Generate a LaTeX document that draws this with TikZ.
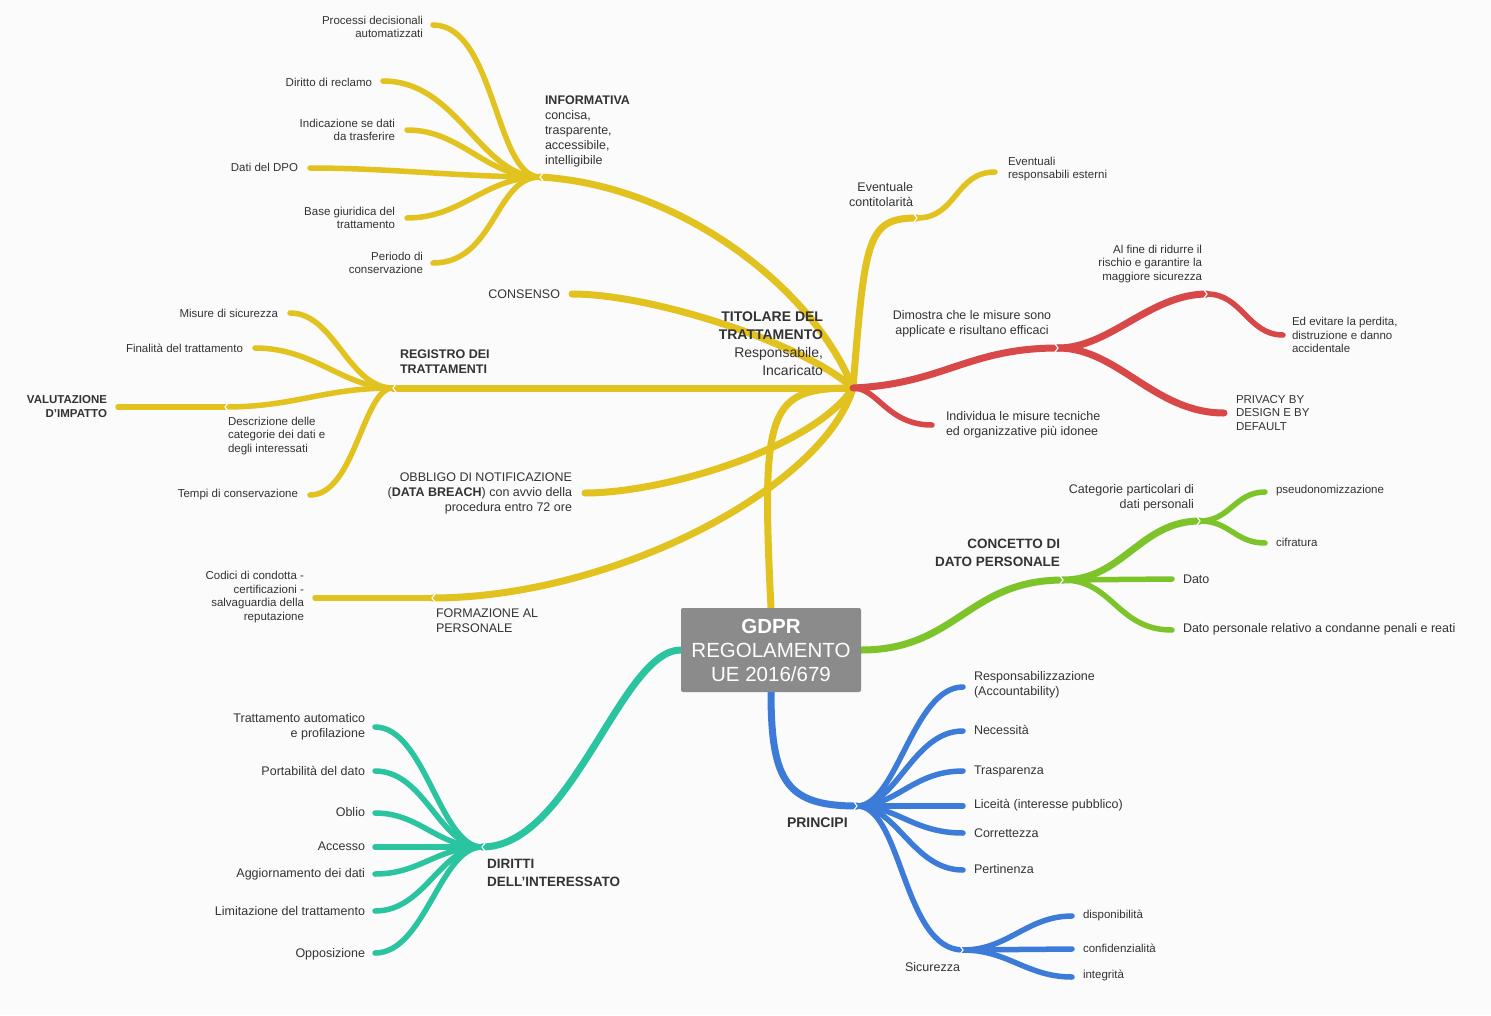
\documentclass[tikz,border=0pt]{standalone}
\usepackage{fontspec}
\setmainfont{Liberation Sans}
\usetikzlibrary{backgrounds}
\definecolor{bgc}{HTML}{FBFBFB}
\definecolor{txt}{HTML}{333333}
\definecolor{cy}{HTML}{E2C21E}
\definecolor{cr}{HTML}{D94848}
\definecolor{cg}{HTML}{7DC42B}
\definecolor{ct}{HTML}{2BC4A0}
\definecolor{cb}{HTML}{3D7BD9}
\definecolor{cgray}{HTML}{8B8B8B}
\newcommand\mmlink[5]{\draw[#1] (#2) .. controls +(#3,0) and +(#4,0) .. (#5);}
\newcommand\chevL[1]{\draw[chev] (#1) ++(3,-4) -- ++(-3,4) -- ++(3,4);}
\newcommand\chevR[1]{\draw[chev] (#1) ++(-3,-4) -- ++(3,4) -- ++(-3,4);}
\begin{document}
\begin{tikzpicture}[x=1pt,y=-1pt,
 tx/.style={text=txt,inner sep=0pt,outer sep=0pt},
 sm/.style={tx,font=\fontsize{11.5}{13.5}\selectfont},
 md/.style={tx,font=\fontsize{12.5}{15}\selectfont},
 bd/.style={tx,font=\bfseries\fontsize{12.5}{15}\selectfont},
 bdl/.style={tx,font=\bfseries\fontsize{13.5}{17.5}\selectfont},
 ra/.style={anchor=east,align=right},
 la/.style={anchor=west,align=left},
 br/.style={line width=7pt,line cap=round},
 lf/.style={line width=5.5pt,line cap=round},
 chev/.style={draw=white,line width=1.1pt},
 rootbox/.style={rectangle,fill=cgray,rounded corners=2pt,minimum width=180pt,minimum height=84pt,inner sep=0pt,text=white,align=center,font=\fontsize{20.5}{24}\selectfont}
]
\useasboundingbox (0,0) rectangle (1491,1015);
\node[rootbox] (root) at (771,650) {\textbf{GDPR}\\REGOLAMENTO\\UE 2016/679};
% coordinates
\coordinate (T) at (853,388);
\coordinate (I) at (540,177);
\coordinate (p1) at (433,25);
\coordinate (p2) at (383,81);
\coordinate (p3) at (407,130);
\coordinate (p4) at (310,168);
\coordinate (p5) at (407,218);
\coordinate (p6) at (433,263);
\coordinate (C) at (572,294);
\coordinate (R) at (393,388);
\coordinate (r1) at (290,313);
\coordinate (r2) at (255,348);
\coordinate (D) at (225,407);
\coordinate (r4) at (310,495);
\coordinate (V) at (118,407);
\coordinate (O) at (585,493);
\coordinate (Fo) at (432,598);
\coordinate (K) at (315,598);
\coordinate (E) at (917,218);
\coordinate (E2) at (995,172);
\coordinate (Dm) at (1058,348);
\coordinate (A) at (1207,294);
\coordinate (Ev) at (1283,335);
\coordinate (Pv) at (1224,413);
\coordinate (In) at (932,425);
\coordinate (Co) at (1063,580);
\coordinate (Ca) at (1200,521);
\coordinate (Ps) at (1265,492);
\coordinate (Ci) at (1265,543);
\coordinate (Da) at (1172,579);
\coordinate (Dp) at (1172,630);
\coordinate (Dr) at (482,847);
\coordinate (t1) at (375,727);
\coordinate (t2) at (375,771);
\coordinate (t3) at (375,813);
\coordinate (t4) at (375,847);
\coordinate (t5) at (375,874);
\coordinate (t6) at (375,911);
\coordinate (t7) at (375,953);
\coordinate (Pc) at (857,806);
\coordinate (b1) at (963,687);
\coordinate (b2) at (963,731);
\coordinate (b3) at (963,771);
\coordinate (b4) at (963,806);
\coordinate (b5) at (963,833);
\coordinate (b6) at (963,870);
\coordinate (Si) at (963,950);
\coordinate (s1) at (1072,916);
\coordinate (s2) at (1072,949);
\coordinate (s3) at (1072,977);
\begin{scope}[on background layer]
\fill[bgc] (0,0) rectangle (1491,1015);
% yellow
\draw[br,cy] (root.north) .. controls +(-10,-200) and +(-85,0) .. (T);
\draw[br,cy] (T) .. controls +(-40,-100) and +(140,8) .. (I);
\mmlink{lf,cy}{I}{-45}{62}{p1}
\mmlink{lf,cy}{I}{-60}{75}{p2}
\mmlink{lf,cy}{I}{-55}{55}{p3}
\mmlink{lf,cy}{I}{-80}{80}{p4}
\mmlink{lf,cy}{I}{-55}{55}{p5}
\mmlink{lf,cy}{I}{-45}{62}{p6}
\draw[br,cy] (T) .. controls +(-50,-45) and +(80,0) .. (C);
\draw[br,cy] (T) -- (R);
\mmlink{lf,cy}{R}{-45}{45}{r1}
\mmlink{lf,cy}{R}{-50}{60}{r2}
\mmlink{lf,cy}{R}{-70}{70}{D}
\mmlink{lf,cy}{R}{-30}{45}{r4}
\draw[lf,cy] (D) -- (V);
\draw[br,cy] (T) .. controls +(-40,60) and +(80,0) .. (O);
\draw[br,cy] (T) .. controls +(-30,100) and +(180,0) .. (Fo);
\draw[lf,cy] (Fo) -- (K);
\draw[br,cy] (T) .. controls +(12,-150) and +(-50,0) .. (E);
\mmlink{lf,cy}{E}{40}{-40}{E2}
% red
\draw[br,cr] (T) .. controls +(90,-4) and +(-90,0) .. (Dm);
\mmlink{br,cr}{Dm}{52}{-57}{A}
\mmlink{lf,cr}{A}{35}{-35}{Ev}
\mmlink{br,cr}{Dm}{60}{-70}{Pv}
\mmlink{lf,cr}{T}{25}{-45}{In}
% green
\mmlink{br,cg}{root.east}{95}{-95}{Co}
\mmlink{br,cg}{Co}{60}{-60}{Ca}
\mmlink{lf,cg}{Ca}{30}{-30}{Ps}
\mmlink{lf,cg}{Ca}{30}{-30}{Ci}
\draw[lf,cg] (Co) -- (Da);
\mmlink{lf,cg}{Co}{50}{-55}{Dp}
% teal
\mmlink{br,ct}{root.west}{-60}{90}{Dr}
\mmlink{lf,ct}{Dr}{-42}{50}{t1}
\mmlink{lf,ct}{Dr}{-42}{50}{t2}
\mmlink{lf,ct}{Dr}{-45}{45}{t3}
\draw[lf,ct] (Dr) -- (t4);
\mmlink{lf,ct}{Dr}{-45}{45}{t5}
\mmlink{lf,ct}{Dr}{-42}{50}{t6}
\mmlink{lf,ct}{Dr}{-42}{50}{t7}
% blue
\draw[br,cb] (root.south) .. controls +(0,90) and +(-70,0) .. (Pc);
\mmlink{lf,cb}{Pc}{40}{-50}{b1}
\mmlink{lf,cb}{Pc}{40}{-50}{b2}
\mmlink{lf,cb}{Pc}{40}{-50}{b3}
\draw[lf,cb] (Pc) -- (b4);
\mmlink{lf,cb}{Pc}{40}{-50}{b5}
\mmlink{lf,cb}{Pc}{40}{-50}{b6}
\mmlink{lf,cb}{Pc}{45}{-60}{Si}
\mmlink{lf,cb}{Si}{45}{-45}{s1}
\draw[lf,cb] (Si) -- (s2);
\mmlink{lf,cb}{Si}{45}{-45}{s3}
% chevrons
\chevL{I}\chevL{R}\chevL{D}\chevL{Fo}\chevL{Dr}
\chevR{E}\chevR{Dm}\chevR{A}\chevR{Co}\chevR{Ca}\chevR{Pc}\chevR{Si}
\end{scope}
% texts yellow
\node[md,la] (tI) at (545,131) {{\bfseries INFORMATIVA}\\concisa,\\trasparente,\\accessibile,\\intelligibile};
\node[sm,ra] (tp1) at (423,27) {Processi decisionali\\automatizzati};
\node[sm,ra] (tp2) at (372,82) {Diritto di reclamo};
\node[sm,ra] (tp3) at (395,130) {Indicazione se dati\\da trasferire};
\node[sm,ra] (tp4) at (298,167) {Dati del DPO};
\node[sm,ra] (tp5) at (395,218) {Base giuridica del\\trattamento};
\node[sm,ra] (tp6) at (423,263) {Periodo di\\conservazione};
\node[md,ra] (tC) at (560,294) {CONSENSO};
\node[tx,ra,font=\fontsize{14}{18}\selectfont] (tT) at (823,344) {\textbf{TITOLARE DEL}\\\textbf{TRATTAMENTO}\\Responsabile,\\Incaricato};
\node[bd,la] (tR) at (400,362) {REGISTRO DEI\\TRATTAMENTI};
\node[sm,ra] (tr1) at (278,313) {Misure di sicurezza};
\node[sm,ra] (tr2) at (243,348) {Finalità del trattamento};
\node[sm,la] (tD) at (228,436) {Descrizione delle\\categorie dei dati e\\degli interessati};
\node[sm,ra] (tr4) at (298,495) {Tempi di conservazione};
\node[sm,ra,font=\bfseries\fontsize{11.5}{14}\selectfont] (tV) at (107,407) {VALUTAZIONE\\D'IMPATTO};
\node[md,ra] (tO) at (572,493) {OBBLIGO DI NOTIFICAZIONE\\(\textbf{DATA BREACH}) con avvio della\\procedura entro 72 ore};
\node[md,la] (tFo) at (436,621) {FORMAZIONE AL\\PERSONALE};
\node[sm,ra] (tK) at (304,597) {Codici di condotta -\\certificazioni -\\salvaguardia della\\reputazione};
\node[md,ra] (tE) at (913,195) {Eventuale\\contitolarità};
\node[sm,la] (tE2) at (1008,169) {Eventuali\\responsabili esterni};
% red texts
\node[md,align=center] (tDm) at (972,324) {Dimostra che le misure sono\\applicate e risultano efficaci};
\node[sm,ra] (tA) at (1202,264) {Al fine di ridurre il\\rischio e garantire la\\maggiore sicurezza};
\node[sm,la] (tEv) at (1292,335) {Ed evitare la perdita,\\distruzione e danno\\accidentale};
\node[sm,la] (tPv) at (1236,413) {PRIVACY BY\\DESIGN E BY\\DEFAULT};
\node[md,la] (tIn) at (946,425) {Individua le misure tecniche\\ed organizzative più idonee};
% green texts
\node[bdl,ra] (tCo) at (1060,553) {CONCETTO DI\\DATO PERSONALE};
\node[md,ra] (tCa) at (1194,498) {Categorie particolari di\\dati personali};
\node[sm,la] (tPs) at (1276,491) {pseudonomizzazione};
\node[sm,la] (tCi) at (1276,542) {cifratura};
\node[md,la] (tDa) at (1183,579) {Dato};
\node[md,la] (tDp) at (1183,629) {Dato personale relativo a condanne penali e reati};
% teal texts
\node[bdl,la] (tDr) at (487,873) {DIRITTI\\DELL'INTERESSATO};
\node[md,ra] (tt1) at (365,727) {Trattamento automatico\\e profilazione};
\node[md,ra] (tt2) at (365,771) {Portabilità del dato};
\node[md,ra] (tt3) at (365,812) {Oblio};
\node[md,ra] (tt4) at (365,846) {Accesso};
\node[md,ra] (tt5) at (365,874) {Aggiornamento dei dati};
\node[md,ra] (tt6) at (365,911) {Limitazione del trattamento};
\node[md,ra] (tt7) at (365,954) {Opposizione};
% blue texts
\node[bdl,la,font=\bfseries\fontsize{14}{17.5}\selectfont] (tPc) at (787,823) {PRINCIPI};
\node[md,la] (tb1) at (974,685) {Responsabilizzazione\\(Accountability)};
\node[md,la] (tb2) at (974,730) {Necessità};
\node[md,la] (tb3) at (974,771) {Trasparenza};
\node[md,la] (tb4) at (974,805) {Liceità (interesse pubblico)};
\node[md,la] (tb5) at (974,833) {Correttezza};
\node[md,la] (tb6) at (974,869) {Pertinenza};
\node[md,ra] (tSi) at (960,967) {Sicurezza};
\node[sm,la] (ts1) at (1083,915) {disponibilità};
\node[sm,la] (ts2) at (1083,948) {confidenzialità};
\node[sm,la] (ts3) at (1083,975) {integrità};
\end{tikzpicture}
\end{document}
